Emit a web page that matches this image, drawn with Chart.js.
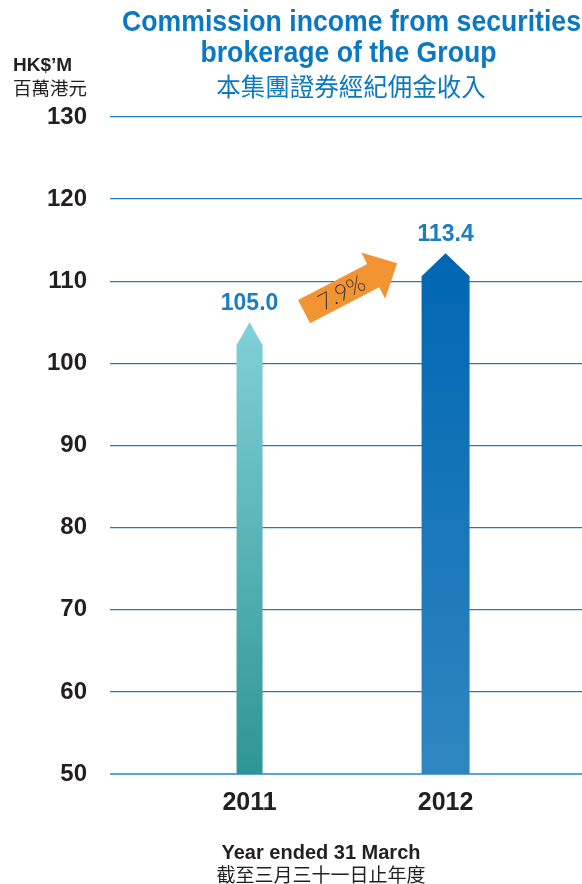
<!DOCTYPE html>
<html lang="en">
<head>
<meta charset="UTF-8">
<title>Commission income from securities brokerage</title>
<script src="https://cdn.jsdelivr.net/npm/chart.js"></script>
<style>
  body { margin: 0; background: #fff; }
</style>
</head>
<body>
<canvas id="myChart" width="582" height="884"></canvas>
<script>
// data
const years = [2011, 2012];
const yearLabels = ['2011', '2012'];
const income = [105.0, 113.4];
const valueLabels = ['105.0', '113.4'];
const growthLabel = '7.9%';
const yTicks = [50, 60, 70, 80, 90, 100, 110, 120, 130];

const blue = '#0a78c2';
const dark = '#231f20';
const latin = '"Liberation Sans", Arial, sans-serif';
const cjk = '"Noto Sans CJK TC", "Noto Sans CJK SC", sans-serif';

// per-bar gradient colours (top, bottom)
const barColours = [['#80d1d8', '#2e9595'], ['#0066b3', '#3086c0']];

function text(ctx, str, x, y, font, color, align) {
  ctx.font = font;
  ctx.fillStyle = color;
  ctx.textAlign = align || 'center';
  ctx.textBaseline = 'middle';
  ctx.fillText(str, x, y);
}

// condensed headline: squeeze the text horizontally
function squeezed(ctx, str, x, y, font, color, sx) {
  ctx.save();
  ctx.translate(x, y);
  ctx.scale(sx, 1);
  text(ctx, str, 0, 0, font, color);
  ctx.restore();
}

const decor = {
  id: 'decor',
  beforeDatasetDraw(chart, args) {
    // draw each bar as an upward arrow
    const ctx = chart.ctx;
    const ys = chart.scales.y;
    const cols = barColours[args.index];
    args.meta.data.forEach(el => {
      const half = el.width / 2;
      const head = 23;
      const base = Math.min(el.base, ys.getPixelForValue(ys.min));
      const g = ctx.createLinearGradient(0, el.y, 0, base);
      g.addColorStop(0, cols[0]);
      g.addColorStop(1, cols[1]);
      ctx.save();
      ctx.fillStyle = g;
      ctx.beginPath();
      ctx.moveTo(el.x - half, base);
      ctx.lineTo(el.x - half, el.y + head);
      ctx.lineTo(el.x, el.y);
      ctx.lineTo(el.x + half, el.y + head);
      ctx.lineTo(el.x + half, base);
      ctx.closePath();
      ctx.fill();
      ctx.restore();
    });
    return false;
  },
  afterDatasetsDraw(chart) {
    const ctx = chart.ctx;
    const xs = chart.scales.x, ys = chart.scales.y;
    ctx.save();
    // value labels
    years.forEach((yr, i) => {
      text(ctx, valueLabels[i], xs.getPixelForValue(yr), ys.getPixelForValue(income[i]) - 19,
        'bold 23px ' + latin, '#1b7dc4');
    });
    // growth arrow
    const x0 = xs.getPixelForValue(years[0]), x1 = xs.getPixelForValue(years[1]);
    const tx = x0 + 0.278 * (x1 - x0), ty = ys.getPixelForValue(income[0] + 1.3);
    const hx = x0 + 0.753 * (x1 - x0), hy = ys.getPixelForValue(income[1] - 1.2);
    const len = Math.hypot(hx - tx, hy - ty);
    ctx.translate(tx, ty);
    ctx.rotate(Math.atan2(hy - ty, hx - tx));
    ctx.fillStyle = '#f39433';
    ctx.beginPath();
    ctx.moveTo(0, -13);
    ctx.lineTo(len - 27, -13);
    ctx.lineTo(len - 27, -26);
    ctx.lineTo(len, 0);
    ctx.lineTo(len - 27, 26);
    ctx.lineTo(len - 27, 13);
    ctx.lineTo(0, 13);
    ctx.closePath();
    ctx.fill();
    text(ctx, growthLabel, 42, 1, '300 23px Lato, ' + latin, '#333333');
    ctx.restore();
  },
  afterDraw(chart) {
    const ctx = chart.ctx;
    ctx.save();
    const tFont = 'bold 30px ' + latin;
    ctx.font = tFont;
    const sx = 459 / ctx.measureText('Commission income from securities').width;
    squeezed(ctx, 'Commission income from securities', 351.5, 23, tFont, blue, sx);
    squeezed(ctx, 'brokerage of the Group', 348.5, 54, tFont, blue, sx);
    text(ctx, '本集團證券經紀佣金收入', 351, 87, '24.5px ' + cjk, blue);
    text(ctx, 'HK$\u2019M', 13, 66, 'bold 19px ' + latin, dark, 'left');
    text(ctx, '百萬港元', 13, 88, '18.5px ' + cjk, dark, 'left');
    text(ctx, 'Year ended 31 March', 321, 853, 'bold 20px ' + latin, dark);
    text(ctx, '截至三月三十一日止年度', 321, 875, '19px ' + cjk, dark);
    ctx.restore();
  }
};

const ctx = document.getElementById('myChart');

new Chart(ctx, {
  type: 'bar',
  data: {
    datasets: [
      { data: [{ x: years[0], y: income[0] }], barThickness: 26, grouped: false },
      { data: [{ x: years[1], y: income[1] }], barThickness: 48, grouped: false }
    ]
  },
  options: {
    responsive: false,
    animation: false,
    layout: { padding: { top: 117, right: 0, bottom: 0, left: 0 } },
    plugins: { legend: { display: false }, tooltip: { enabled: false } },
    scales: {
      x: {
        type: 'linear',
        offset: false,
        min: 2010.288,
        max: 2012.696,
        afterBuildTicks: s => { s.ticks = years.map(v => ({ value: v })); },
        afterFit: s => { s.height = 110; },
        grid: { display: false, drawTicks: false, offset: false },
        border: { display: false },
        ticks: {
          padding: 14,
          color: dark,
          font: { family: latin, size: 25, weight: 'bold' },
          callback: v => yearLabels[years.indexOf(v)]
        }
      },
      y: {
        min: 50,
        max: 130,
        afterBuildTicks: s => { s.ticks = yTicks.map(v => ({ value: v })); },
        afterFit: s => { s.width = 110; },
        grid: {
          drawTicks: false,
          color: yTicks.map(v => v === 50 ? '#5ba4d6' : '#1b7bc6'),
          lineWidth: yTicks.map(v => v === 50 ? 2 : 1.3)
        },
        border: { display: false },
        ticks: {
          padding: 23,
          color: dark,
          font: { family: latin, size: 24, weight: 'bold' }
        }
      }
    }
  },
  plugins: [decor]
});
</script>
</body>
</html>
